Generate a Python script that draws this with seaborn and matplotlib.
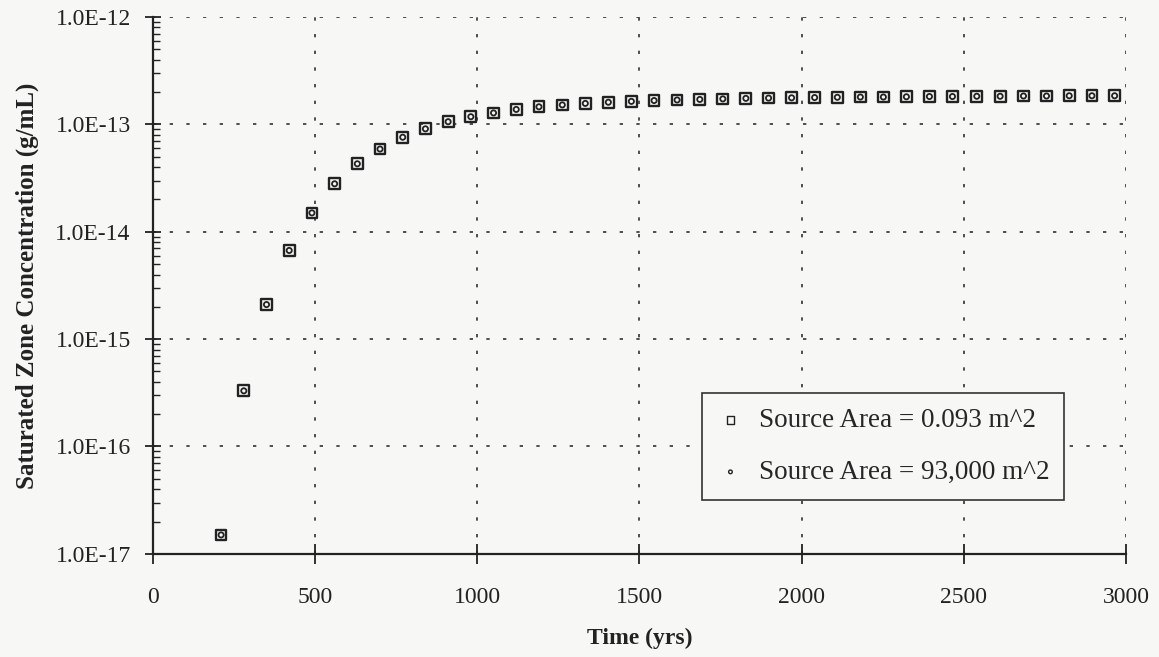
import matplotlib
matplotlib.use("Agg")
import matplotlib.pyplot as plt
import matplotlib.ticker as mticker
import seaborn as sns
import pandas as pd

# ---- data ----
time_yrs = [210, 280, 350, 420, 490, 560, 630, 700, 770, 840,
            910, 980, 1050, 1120, 1190, 1262, 1333, 1404, 1475, 1545,
            1616, 1686, 1757, 1828, 1898, 1969, 2040, 2110, 2181, 2252,
            2323, 2394, 2465, 2540, 2612, 2684, 2755, 2825, 2895, 2965]
conc_small = [1.5e-17, 3.3e-16, 2.1e-15, 6.7e-15, 1.5e-14, 2.8e-14, 4.3e-14, 5.9e-14, 7.6e-14, 9.1e-14,
              1.06e-13, 1.18e-13, 1.28e-13, 1.38e-13, 1.46e-13, 1.52e-13, 1.57e-13, 1.61e-13, 1.64e-13, 1.67e-13,
              1.69e-13, 1.71e-13, 1.73e-13, 1.75e-13, 1.76e-13, 1.77e-13, 1.78e-13, 1.79e-13, 1.80e-13, 1.80e-13,
              1.81e-13, 1.82e-13, 1.82e-13, 1.83e-13, 1.83e-13, 1.84e-13, 1.84e-13, 1.85e-13, 1.85e-13, 1.85e-13]
conc_large = [1.5e-17, 3.3e-16, 2.1e-15, 6.7e-15, 1.5e-14, 2.8e-14, 4.3e-14, 5.9e-14, 7.6e-14, 9.1e-14,
              1.06e-13, 1.18e-13, 1.28e-13, 1.38e-13, 1.46e-13, 1.52e-13, 1.57e-13, 1.61e-13, 1.64e-13, 1.67e-13,
              1.69e-13, 1.71e-13, 1.73e-13, 1.75e-13, 1.76e-13, 1.77e-13, 1.78e-13, 1.79e-13, 1.80e-13, 1.80e-13,
              1.81e-13, 1.82e-13, 1.82e-13, 1.83e-13, 1.83e-13, 1.84e-13, 1.84e-13, 1.85e-13, 1.85e-13, 1.85e-13]
series_labels = ["Source Area = 0.093 m^2", "Source Area = 93,000 m^2"]
x_ticks = [0, 500, 1000, 1500, 2000, 2500, 3000]
y_ticks = [1e-17, 1e-16, 1e-15, 1e-14, 1e-13, 1e-12]
x_label = "Time (yrs)"
y_label = "Saturated Zone Concentration (g/mL)"

sns.set_theme(style="white")
plt.rcParams["font.family"] = ["Liberation Serif", "DejaVu Serif"]

ink = "#222222"
bg = "#f7f7f5"
fig = plt.figure(figsize=(11.59, 6.57), dpi=100, facecolor=bg)
ax = fig.add_axes([0.132, 0.157, 0.8395, 0.817])
ax.set_facecolor(bg)

df1 = pd.DataFrame({"t": time_yrs, "c": conc_small})
df2 = pd.DataFrame({"t": time_yrs, "c": conc_large})

sns.scatterplot(data=df1, x="t", y="c", marker="s", s=60, facecolor="none",
                edgecolor=ink, linewidth=1.7, ax=ax, label=series_labels[0], zorder=3)
sns.scatterplot(data=df2, x="t", y="c", marker="o", s=14, facecolor="none",
                edgecolor=ink, linewidth=1.3, ax=ax, label=series_labels[1], zorder=4)

ax.set_yscale("log")
ax.set_xlim(0, 3000)
ax.set_ylim(1e-17, 1e-12)
ax.set_xticks(x_ticks)
ax.set_yticks(y_ticks)
ax.yaxis.set_major_formatter(mticker.FuncFormatter(lambda v, p: f"{v:.1E}"))
ax.yaxis.set_minor_locator(mticker.LogLocator(base=10, subs=range(2, 10), numticks=20))
ax.yaxis.set_minor_formatter(mticker.NullFormatter())

for s in ["top", "right"]:
    ax.spines[s].set_visible(False)
for s in ["left", "bottom"]:
    ax.spines[s].set_color(ink)
    ax.spines[s].set_linewidth(1.6)

ax.grid(True, which="major", color="#333333", linestyle=(0, (2, 8)), linewidth=1.2)
ax.grid(False, which="minor")

ax.tick_params(axis="x", which="major", direction="inout", length=14, width=1.3,
               color=ink, labelsize=17, pad=17, labelcolor=ink, bottom=True)
ax.tick_params(axis="y", which="major", direction="inout", length=12, width=1.3,
               color=ink, labelsize=17, pad=10, labelcolor=ink, left=True)
ax.tick_params(axis="y", which="minor", direction="in", length=5, width=1.0,
               color=ink, left=True)

ax.set_xlabel(x_label, fontsize=17, fontweight="bold", color=ink, labelpad=14)
ax.set_ylabel(y_label, fontsize=18, fontweight="bold", color=ink, labelpad=12)

leg = ax.legend(loc="upper left", bbox_to_anchor=(702 / 1159, 1 - 393 / 657),
                bbox_transform=fig.transFigure, frameon=True, fancybox=False,
                fontsize=19.5, borderpad=0.55, labelspacing=1.0, handletextpad=0.55,
                handlelength=1.0, borderaxespad=0, markerscale=0.7)
for h in leg.legend_handles:
    h.set_linewidth(1.0)
leg.get_frame().set_edgecolor("#333333")
leg.get_frame().set_linewidth(1.2)
leg.get_frame().set_facecolor(bg)
leg.get_frame().set_alpha(1)

fig.savefig("out.png", dpi=100, facecolor=bg)
